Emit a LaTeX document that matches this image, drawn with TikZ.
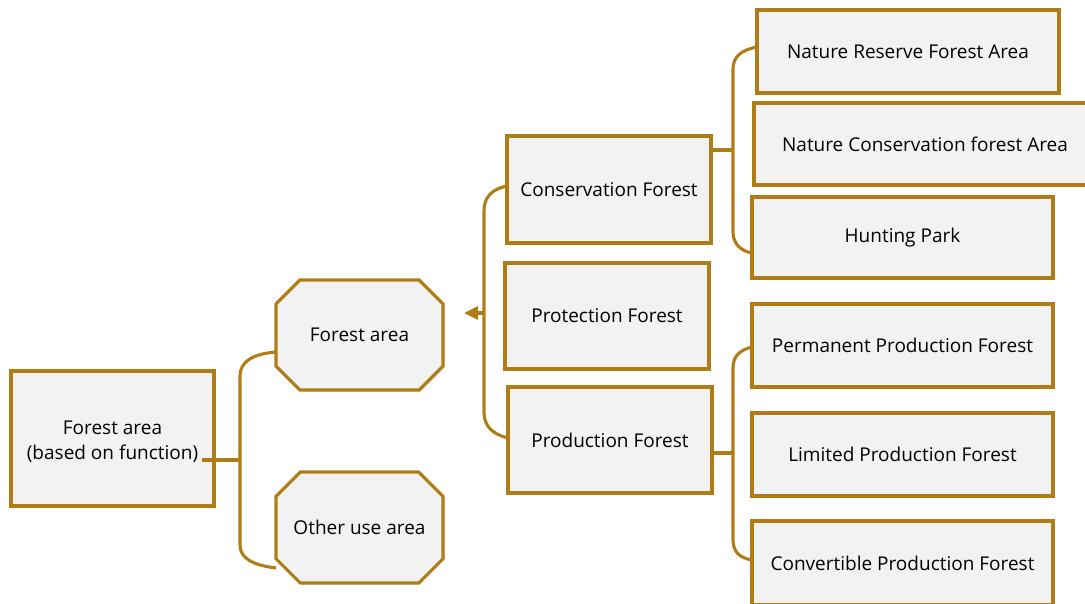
\documentclass[tikz,border=0pt]{standalone}
\usepackage{fontspec}
\setmainfont{Open Sans}
\usetikzlibrary{shapes.misc,shadows,arrows.meta,calc}
\definecolor{gold}{RGB}{176,124,22}
\definecolor{boxfill}{RGB}{242,242,242}
\begin{document}
\begin{tikzpicture}[x=1pt,y=-1pt,
  box/.style={draw=gold, line width=3.1pt, fill=boxfill, inner sep=0pt, outer sep=0pt,
    align=center, font=\fontsize{19}{25}\selectfont,
    drop shadow={shadow xshift=1.5pt, shadow yshift=-1.5pt, opacity=0.25}},
  oct/.style={box, chamfered rectangle, chamfered rectangle angle=45,
    chamfered rectangle xsep=17pt, chamfered rectangle ysep=17pt},
  link/.style={draw=gold, line width=3.1pt}]
\useasboundingbox (0,0) rectangle (1085,603);

% level 0
\node[box, minimum width=203pt, minimum height=135pt] (root) at (112.5,438.5)
  {\rule{0pt}{20pt}Forest area\\(based on function)};
% level 1
\node[oct, minimum width=167pt, minimum height=110pt] (fa) at (359.5,335) {Forest area};
\node[oct, minimum width=167pt, minimum height=111pt] (ou) at (359.5,527.5) {Other use area};
% level 2
\node[box, minimum width=204pt, minimum height=107pt] (cf) at (609,189.5) {Conservation Forest};
\node[box, minimum width=204pt, minimum height=106pt] (pf) at (607,316) {Protection Forest};
\node[box, minimum width=204pt, minimum height=106pt] (prf) at (610,440) {Production Forest};
% level 3
\node[box, minimum width=302pt, minimum height=83pt] (nr) at (908,51.5) {Nature Reserve Forest Area};
\node[box, minimum width=342pt, minimum height=82pt] (nc) at (925,144) {Nature Conservation forest Area};
\node[box, minimum width=301pt, minimum height=81pt] (hp) at (902.5,237.5) {Hunting Park};
\node[box, minimum width=301pt, minimum height=83pt] (pp) at (902.5,345.5) {Permanent Production Forest};
\node[box, minimum width=301pt, minimum height=83pt] (lp) at (902.5,454.5) {Limited Production Forest};
\node[box, minimum width=301pt, minimum height=84pt] (cp) at (902.5,563) {Convertible Production Forest};

% root to its two children
\coordinate (j1) at (240,460);
\draw[link] ($(root.east)+(-12,21.5)$) -- (j1);
\draw[link] ($(fa.west)+(0,17)$) .. controls (252,354) and (240,362) .. (240,376)
  -- (240,545) .. controls (240,558) and (252,565) .. ($(ou.west)+(0,40.5)$);

% forest functions, gathered into forest area
\coordinate (tip) at (464,313);
\draw[link] ($(cf.west)+(0,-3.5)$) .. controls (492,189) and (484,197) .. (484,211)
  -- (484,412) .. controls (484,426) and (492,434) .. ($(prf.west)+(0,-2)$);
\draw[link, -{Triangle[length=14pt, width=13pt]}] (484,313) -- (tip);

% conservation forest subdivisions
\draw[link] ($(cf.north east)+(2,14)$) -- (733,150);
\draw[link] ($(nr.west)+(0,-4.5)$) .. controls (741,50) and (733,57) .. (733,69)
  -- (733,232) .. controls (733,244) and (741,251) .. ($(hp.west)+(0,15.5)$);

% production forest subdivisions
\draw[link] ($(prf.east)+(1,13)$) -- (733,453);
\draw[link] ($(pp.west)+(0,1.5)$) .. controls (740,350) and (733,356) .. (733,368)
  -- (733,540) .. controls (733,552) and (740,558) .. ($(cp.west)+(0,-3)$);
\end{tikzpicture}
\end{document}
